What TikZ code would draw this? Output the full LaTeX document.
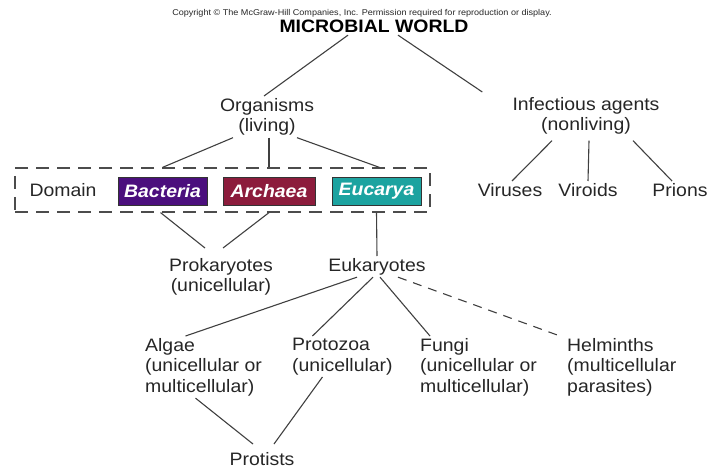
\documentclass[tikz,border=0pt]{standalone}
\usepackage{fontspec}
\setmainfont[FakeStretch=1.08]{Liberation Sans}
\usetikzlibrary{positioning}
\definecolor{bactcol}{HTML}{4B0F7D}
\definecolor{archcol}{HTML}{8C1C3C}
\definecolor{eucacol}{HTML}{1CA3A0}

\begin{document}
\begin{tikzpicture}[x=1pt,y=-1pt,
  txt/.style={inner sep=2pt, text=black!85, align=center, font=\fontsize{18}{20.5}\selectfont},
  lft/.style={txt, align=left},
  dombox/.style={draw=black!80, line width=0.8pt, minimum width=89pt, minimum height=28pt,
    inner sep=0pt, text=white, font=\fontsize{18}{20}\selectfont\bfseries\itshape},
  dashbox/.style={draw=black!70, line width=1.2pt, dash pattern=on 13pt off 8pt,
    minimum width=415pt, minimum height=44pt},
  link/.style={draw=black!75, line width=1.1pt}]

\useasboundingbox (0,0) rectangle (708,470);

% define the top of the tree
  \node[txt, font=\fontsize{8.4}{10}\selectfont] (copy) at (362,13)
{Copyright \textcopyright{} The McGraw-Hill Companies, Inc. Permission required for reproduction or display.};
  \node[txt, anchor=north, text=black, font=\fontsize{18}{20}\selectfont\bfseries] (mw) at (374,18)
{MICROBIAL WORLD};
  \node[txt, anchor=north] (org) at (267,96) {Organisms\\(living)};
  \node[txt, anchor=north] (inf) at (586,95) {Infectious agents\\(nonliving)};

% define the domains
  \node[dashbox] (dbox) at (222.5,190) {};
  \node[txt] (dom) at (63,190) {Domain};
  \node[dombox, fill=bactcol] (bac) at (162.5,191) {Bacteria};
  \node[dombox, fill=archcol, minimum width=92pt] (arc) at (269,191) {Archaea};
  \node[dombox, fill=eucacol] (euc) at (376.5,191) {Eucarya};

% define the agents
  \node[txt, anchor=north] (vir) at (510,181) {Viruses};
  \node[txt, anchor=north] (vid) at (588,181) {Viroids};
  \node[txt, anchor=north] (pri) at (680,181) {Prions};

% define the cell types and the groups
  \node[txt, anchor=north] (pro) at (221,256) {Prokaryotes\\(unicellular)};
  \node[txt, anchor=north] (euk) at (377,256) {Eukaryotes};
  \node[lft, anchor=north west] (alg) at (143,336) {Algae\\(unicellular or\\multicellular)};
  \node[lft, anchor=north west] (pz) at (290,336) {Protozoa\\(unicellular)};
  \node[lft, anchor=north west] (fun) at (418,336) {Fungi\\(unicellular or\\multicellular)};
  \node[lft, anchor=north west] (hel) at (565,336) {Helminths\\(multicellular\\parasites)};
  \node[txt, anchor=north] (pts) at (262,450) {Protists};

% define the links
  \path[link] ([xshift=-26pt]mw.south) edge ([xshift=-3pt]org.north)
              ([xshift=24pt]mw.south) edge ([xshift=-28pt,yshift=3pt]inf.north west)
        ([xshift=-34pt]org.south) edge (bac |- dbox.north)
        (arc |- org.south) edge (arc |- dbox.north)
        ([xshift=30pt]org.south) edge ([xshift=3pt]euc |- dbox.north)
        ([xshift=-34pt,yshift=-4pt]inf.south) edge ([xshift=2pt]vir.north)
        ([xshift=3pt,yshift=-4pt]inf.south) edge (vid.north)
        ([xshift=47pt,yshift=-4pt]inf.south) edge ([xshift=-8pt]pri.north)
        ([xshift=-2pt]bac |- dbox.south) edge ([xshift=-16pt,yshift=8pt]pro.north)
        (arc |- dbox.south) edge ([xshift=2pt,yshift=8pt]pro.north)
        (euc |- dbox.south) edge (euk.north)
        ([xshift=-20pt]euk.south) edge ([xshift=-18pt]alg.north)
        ([xshift=-4pt]euk.south) edge ([xshift=-30pt]pz.north)
        ([xshift=3pt]euk.south) edge ([xshift=12pt]fun.north west)
        ([xshift=-8pt]alg.south) edge ([xshift=-9pt,yshift=6pt]pts.north)
        ([xshift=-20pt]pz.south) edge ([xshift=12pt,yshift=6pt]pts.north);
  \path[link, dash pattern=on 9pt off 7pt]
        ([xshift=21pt]euk.south) edge ([xshift=-5pt]hel.north west);

 \end{tikzpicture}
\end{document}
